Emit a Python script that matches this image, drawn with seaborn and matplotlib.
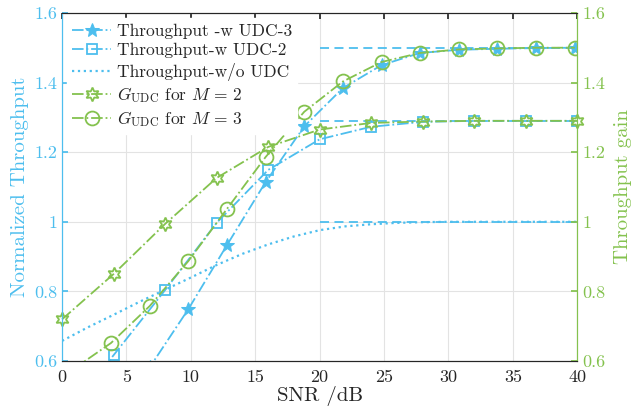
import numpy as np
import pandas as pd
import matplotlib.pyplot as plt
import seaborn as sns

# ── data ────────────────────────────────────────────────────
snr_step3 = [0.8, 3.8, 6.8, 9.8, 12.8, 15.8, 18.8, 21.8, 24.8, 27.8, 30.8, 33.8, 36.8, 39.8]
thr_udc3 = [0.30, 0.44, 0.582, 0.749, 0.933, 1.114, 1.274, 1.384, 1.450, 1.485, 1.494, 1.497, 1.499, 1.500]
gain_m3 = [0.575, 0.652, 0.758, 0.887, 1.037, 1.186, 1.316, 1.403, 1.459, 1.485, 1.495, 1.498, 1.500, 1.500]

snr_step4 = [0, 4, 8, 12, 16, 20, 24, 28, 32, 36, 40]
thr_udc2 = [0.43, 0.617, 0.804, 0.997, 1.149, 1.237, 1.273, 1.287, 1.290, 1.290, 1.290]
gain_m2 = [0.720, 0.850, 0.994, 1.126, 1.215, 1.265, 1.284, 1.288, 1.290, 1.290, 1.290]

snr_step2 = [0, 2, 4, 6, 8, 10, 12, 14, 16, 18, 20, 22, 24, 26, 28, 30, 32, 34, 36, 38, 40]
thr_no_udc = [0.658, 0.697, 0.733, 0.770, 0.805, 0.840, 0.876, 0.908, 0.935, 0.958, 0.976,
              0.987, 0.993, 0.997, 0.999, 1.0, 1.0, 1.0, 1.0, 1.0, 1.0]

bound_snr = [20, 40]
bound_levels = [1.5, 1.29, 1.0]

x_ticks = [0, 5, 10, 15, 20, 25, 30, 35, 40]
y_ticks = [0.6, 0.8, 1.0, 1.2, 1.4, 1.6]
y_tick_labels = ["0.6", "0.8", "1", "1.2", "1.4", "1.6"]

BLUE = "#4DBEEE"
GREEN = "#84C24E"
DARK = "#262626"

sns.set_theme(style="white")
plt.rcParams["font.family"] = ["cmr10", "DejaVu Serif"]
plt.rcParams["mathtext.fontset"] = "cm"
plt.rcParams["axes.formatter.use_mathtext"] = True

fig = plt.figure(figsize=(6.4, 4.16), dpi=100)
ax = fig.add_axes([0.097, 0.132, 0.805, 0.837])
ax2 = ax.twinx()

# ── left axis: throughput curves ────────────────────────────
sns.lineplot(x=snr_step3, y=thr_udc3, ax=ax, color=BLUE, linestyle="-.", lw=1.3,
             marker="*", markersize=10, markeredgecolor=BLUE, markerfacecolor=BLUE,
             label="Throughput -w UDC-3")
sns.lineplot(x=snr_step4, y=thr_udc2, ax=ax, color=BLUE, linestyle="-.", lw=1.3,
             marker="s", markersize=7, markeredgecolor=BLUE, markerfacecolor="none",
             markeredgewidth=1.3, label="Throughput-w UDC-2")
sns.lineplot(x=snr_step2, y=thr_no_udc, ax=ax, color=BLUE, linestyle=":", lw=1.6,
             label="Throughput-w/o UDC")
for lvl in bound_levels:
    ax.plot(bound_snr, [lvl, lvl], color=BLUE, linestyle=(0, (5, 3)), lw=1.3)

# ── right axis: gain curves ─────────────────────────────────
sns.lineplot(x=snr_step4, y=gain_m2, ax=ax2, color=GREEN, linestyle="-.", lw=1.3,
             marker=(6, 1, 0), markersize=10, markeredgecolor=GREEN, markerfacecolor="none",
             markeredgewidth=1.3, label=r"$G_{\rm UDC}$ for $M\,=\,2$", clip_on=False)
sns.lineplot(x=snr_step3, y=gain_m3, ax=ax2, color=GREEN, linestyle="-.", lw=1.3,
             marker="o", markersize=10, markeredgecolor=GREEN, markerfacecolor="none",
             markeredgewidth=1.3, label=r"$G_{\rm UDC}$ for $M\,=\,3$")

for a in (ax, ax2):
    a.set_xlim(0, 40)
    a.set_ylim(0.6, 1.6)
    a.set_yticks(y_ticks)
    a.set_yticklabels(y_tick_labels)
ax.set_xticks(x_ticks)
ax.set_xticklabels([str(t) for t in x_ticks])

ax.grid(True, color="#E3E3E3", lw=0.8)
ax.tick_params(axis="x", direction="in", length=4, color=DARK, labelcolor=DARK,
               labelsize=13, top=True, pad=6)
ax.tick_params(axis="y", direction="in", length=4, color=BLUE, labelcolor=BLUE, labelsize=13)
ax2.tick_params(axis="y", direction="in", length=4, color=GREEN, labelcolor=GREEN, labelsize=13)

for a in (ax, ax2):
    a.spines["bottom"].set_color(DARK)
    a.spines["top"].set_color(DARK)
    a.spines["left"].set_color(BLUE)
    a.spines["right"].set_color(GREEN)
    for s in a.spines.values():
        s.set_linewidth(0.8)

ax.set_xlabel("SNR /dB", fontsize=15, color=DARK, labelpad=1)
ax.set_ylabel("Normalized Throughput", fontsize=15, color=BLUE, labelpad=4)
ax2.set_ylabel("Throughput gain", fontsize=15, color=GREEN, labelpad=6)

h1, l1 = ax.get_legend_handles_labels()
h2, l2 = ax2.get_legend_handles_labels()
ax.get_legend().remove()
ax2.get_legend().remove()
leg = ax2.legend(h1 + h2, l1 + l2, loc="upper left", fontsize=12.5, frameon=True,
                 facecolor="white", edgecolor="white", framealpha=1, fancybox=False,
                 handlelength=2.2, handletextpad=0.35, labelspacing=0.25,
                 borderaxespad=0.3, borderpad=0.3)

plt.savefig("out.png", dpi=100)
